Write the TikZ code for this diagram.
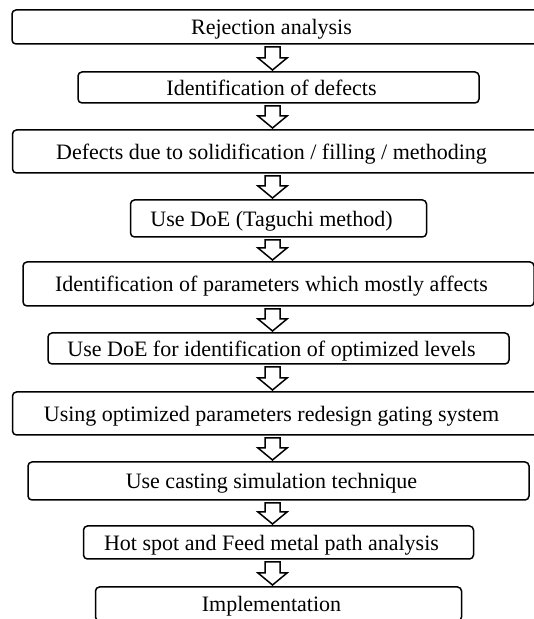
\documentclass[tikz,border=0pt]{standalone}
\usepackage{fontspec}
\setmainfont{Liberation Serif}
\usetikzlibrary{positioning, calc}

\begin{document}
\begin{tikzpicture}[
  x=1pt, y=1pt,
  font=\fontsize{22}{26}\selectfont,
  box/.style={draw, rounded corners=4pt, line width=1.5pt, inner sep=0pt,
    outer sep=0pt, text height=17pt, text depth=1pt,
    execute at end node={\hspace*{14pt}}},
  flow/.style={line width=1.5pt, line join=miter, fill=white},
]
  \useasboundingbox (0,0) rectangle (534,619);
  \clip (0,0) rectangle (534,619);

  \node[box, minimum width=533pt, minimum height=34pt] (b1) at (278.5,592)
    {Rejection analysis};
  \node[box, minimum width=401pt, minimum height=31pt, below=28pt of b1] (b2)
    {Identification of defects};
  \node[box, minimum width=532pt, minimum height=43pt, below=27pt of b2] (b3)
    {Defects due to solidification / filling / methoding};
  \node[box, minimum width=296pt, minimum height=37pt, below=27pt of b3] (b4)
    {Use DoE (Taguchi method)};
  \node[box, minimum width=511pt, minimum height=44pt, below=25pt of b4] (b5)
    {Identification of parameters which mostly affects};
  \node[box, minimum width=461pt, minimum height=31pt, below=27pt of b5] (b6)
    {Use DoE for identification of optimized levels};
  \node[box, minimum width=532pt, minimum height=43pt, below=28pt of b6] (b7)
    {Using optimized parameters redesign gating system};
  \node[box, minimum width=501pt, minimum height=38pt, below=27pt of b7] (b8)
    {Use casting simulation technique};
  \node[box, minimum width=390pt, minimum height=33pt, below=26pt of b8] (b9)
    {Hot spot and Feed metal path analysis};
  \node[box, minimum width=366pt, minimum height=34pt, below=28pt of b9] (b10)
    {Implementation};

  % hollow block arrows between the steps
  \foreach \a/\b in {b1/b2, b2/b3, b3/b4, b4/b5, b5/b6, b6/b7, b7/b8, b8/b9, b9/b10} {
    \coordinate (s) at ([xshift=-6pt, yshift=-3pt]\a.south);
    \coordinate (t) at ([xshift=-6pt, yshift=2pt]\b.north);
    \draw[flow] ($(s)+(-7.5,0)$) -- ($(t)+(-7.5,12)$) -- ++(-7,0) -- (t)
      -- ($(t)+(14.5,12)$) -- ++(-7,0) -- ($(s)+(7.5,0)$) -- cycle;
  }
\end{tikzpicture}
\end{document}
